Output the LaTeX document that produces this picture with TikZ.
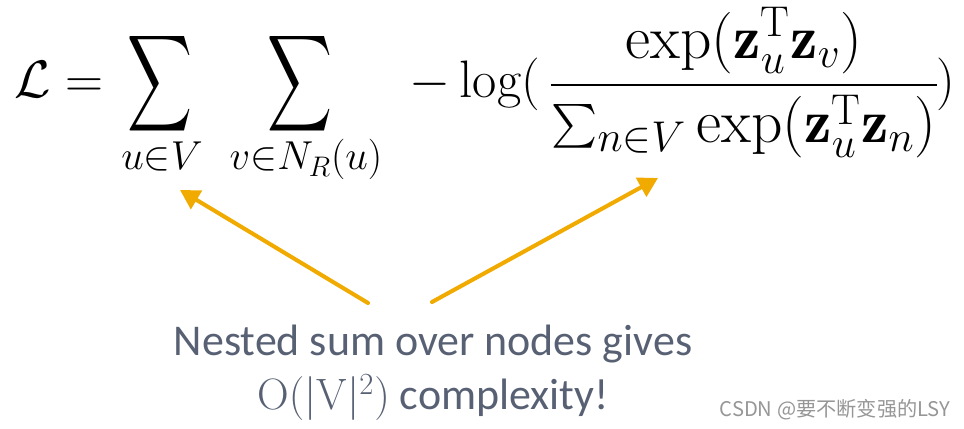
\RequirePackage{fix-cm}
\documentclass[tikz,border=0pt]{standalone}
\usepackage{amsmath}
\usepackage{fontspec}
\newfontfamily\notefont{Carlito}
\newfontfamily\cjkfont{Noto Sans CJK SC}
\usetikzlibrary{arrows.meta}

\definecolor{arroworange}{RGB}{240,170,0}
\definecolor{notegray}{RGB}{88,97,116}
\definecolor{markgray}{RGB}{150,150,150}

\begin{document}
\begin{tikzpicture}[x=0.02cm,y=-0.02cm,
  big/.style={inner sep=0pt,font=\fontsize{30}{36}\selectfont},
  bigfrac/.style={inner sep=0pt,font=\fontsize{35}{42}\selectfont},
  sumsign/.style={inner sep=0pt,font=\fontsize{30}{36}\selectfont},
  sub/.style={inner sep=0pt,font=\fontsize{23}{27}\selectfont},
  pointer/.style={draw=arroworange,line width=2.3pt,line cap=round,-{Triangle[length=11pt,width=12pt]}}]
  % page frame
  \useasboundingbox (0,0) rectangle (964,429);
  % the loss
  \node[big,anchor=base] (lhs) at (59,98) {$\mathcal{L} =$};
  \node[sumsign] (sumU) at (160,84) {\resizebox*{1.3cm}{2.16cm}{$\displaystyle\sum$}};
  \node[sub,anchor=base] (subU) at (162,170) {$u{\in}V$};
  \node[sumsign] (sumV) at (300,84) {\resizebox*{1.3cm}{2.16cm}{$\displaystyle\sum$}};
  \node[sub,anchor=base] (subV) at (306,170) {$v{\in}N_R(u)$};
  \node[big,anchor=base] (neglog) at (475,98) {${-}\log($};
  \node[bigfrac,anchor=base] (frac) at (744,100) {$\dfrac{\exp(\mathbf{z}_u^{\mathrm{T}}\mathbf{z}_v)}{\sum_{n\in V}\exp(\mathbf{z}_u^{\mathrm{T}}\mathbf{z}_n)}$};
  \node[big,anchor=base] (close) at (946,98) {$)$};
  % the note and its arrows
  \node[align=center,inner sep=0pt,text=notegray,font=\notefont\fontsize{25}{31}\selectfont] (note) at (433,373)
    {Nested sum over nodes gives\\$\mathrm{O}(|\mathrm{V}|^{2})$ complexity!};
  \coordinate (fromU) at (368,303);
  \coordinate (tipU) at (180,190);
  \coordinate (fromN) at (432,302);
  \coordinate (tipN) at (658,178);
  \draw[pointer] (fromU) -- (tipU);
  \draw[pointer] (fromN) -- (tipN);
  % watermark
  \node[inner sep=0pt,text=markgray,font=\cjkfont\fontsize{11.5}{14}\selectfont] (mark) at (835,410) {CSDN @要不断变强的LSY};
\end{tikzpicture}
\end{document}
